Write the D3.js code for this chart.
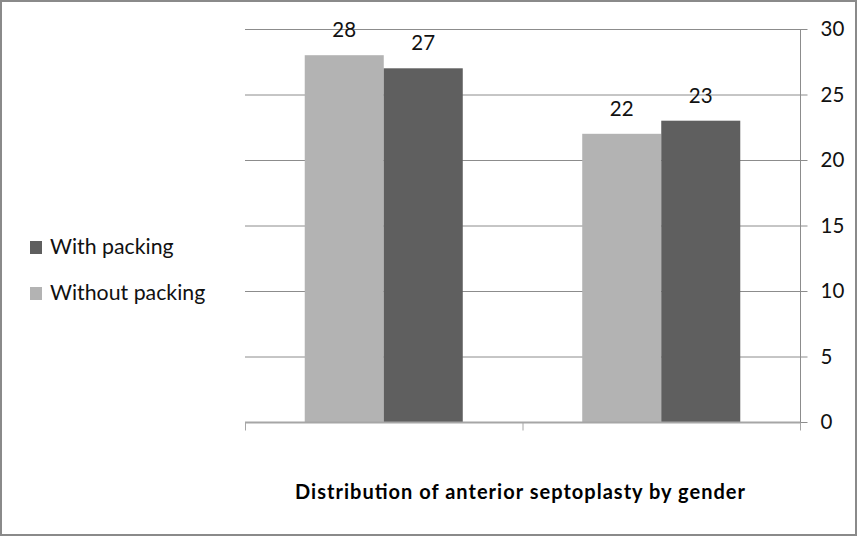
<!DOCTYPE html>
<html><head><meta charset="utf-8">
<script src="https://cdn.jsdelivr.net/npm/d3@7"></script>
<style>body{margin:0;background:#fff}svg{display:block}text{font-family:Lato,"Open Sans",sans-serif}</style>
</head><body>
<script>
const categories = ["Group 1", "Group 2"];
const seriesNames = ["Without packing", "With packing"];
const withoutPacking = [28, 22];
const withPacking = [27, 23];
const yTicks = [0, 5, 10, 15, 20, 25, 30];
const title = "Distribution of anterior septoplasty by gender";
const colors = {"Without packing": "#b3b3b3", "With packing": "#5f5f5f"};

(function () {
const W = 857, H = 536;
const svg = d3.select("body").append("svg").attr("width", W).attr("height", H);
svg.append("rect").attr("x", 1).attr("y", 1).attr("width", W - 2).attr("height", H - 2)
  .attr("fill", "#fff").attr("stroke", "#8a8a8a").attr("stroke-width", 2);

const pLeft = 245, pRight = 800, pTop = 29, pBottom = 422;
const x = d3.scaleBand().domain(categories).range([pLeft, pRight]).paddingInner(0).paddingOuter(0);
const xs = d3.scaleBand().domain(seriesNames).range([0, x.bandwidth()]).paddingInner(0).paddingOuter(0.756);
const y = d3.scaleLinear().domain([0, 30]).range([pBottom, pTop]);

// gridlines
svg.append("g").selectAll("line").data(yTicks.filter(d => d > 0)).join("line")
  .attr("x1", pLeft).attr("x2", pRight).attr("y1", d => y(d) + 0.5).attr("y2", d => y(d) + 0.5)
  .attr("stroke", "#8c8c8c").attr("stroke-width", 1);

const data = categories.map((c, i) => ({cat: c, vals: [
  {s: "Without packing", v: withoutPacking[i]}, {s: "With packing", v: withPacking[i]}]}));

const g = svg.append("g");
data.forEach(d => {
  d.vals.forEach(e => {
    g.append("rect").attr("x", x(d.cat) + xs(e.s)).attr("width", xs.bandwidth())
      .attr("y", y(e.v)).attr("height", y(0) - y(e.v)).attr("fill", colors[e.s]);
    g.append("text").attr("x", x(d.cat) + xs(e.s) + xs.bandwidth() / 2).attr("y", y(e.v) - 18)
      .attr("text-anchor", "middle").attr("font-size", 20.5).attr("fill", "#111").text(e.v);
  });
});

// right axis
const yAxis = svg.append("g").attr("transform", `translate(${pRight + 0.5},0)`)
  .call(d3.axisRight(y).tickValues(yTicks).tickSize(7).tickPadding(13));
yAxis.select(".domain").attr("stroke", "#8c8c8c").attr("d", `M0,${pTop}V${pBottom + 8}`);
yAxis.selectAll(".tick line").attr("stroke", "#8c8c8c");
yAxis.selectAll(".tick text").attr("font-size", 20.5).attr("fill", "#111").attr("font-family", "Lato");

// bottom axis
const xAxis = svg.append("g").attr("transform", `translate(0,${pBottom + 0.5})`);
xAxis.append("line").attr("x1", pLeft).attr("x2", pRight).attr("stroke", "#a6a6a6").attr("stroke-width", 2);
const xTickPos = categories.map(c => x(c)).concat([x(categories[categories.length - 1]) + x.bandwidth()]);
xAxis.selectAll("line.t").data(xTickPos).join("line").attr("class", "t")
  .attr("x1", d => d + 0.5).attr("x2", d => d + 0.5).attr("y1", 0).attr("y2", 8).attr("stroke", "#a6a6a6");

// legend
const legend = [["With packing", 254], ["Without packing", 300]];
legend.forEach(([name, yy]) => {
  svg.append("rect").attr("x", 30).attr("y", yy - 13).attr("width", 12).attr("height", 13).attr("fill", colors[name]);
  svg.append("text").attr("x", 50).attr("y", yy).attr("font-size", 21.3).attr("fill", "#111").text(name);
});

svg.append("text").attr("x", 295).attr("y", 499)
  .attr("font-size", 20).attr("font-weight", "bold").attr("fill", "#000")
  .attr("textLength", 450).attr("lengthAdjust", "spacing").text(title);
})();
</script>
</body></html>
